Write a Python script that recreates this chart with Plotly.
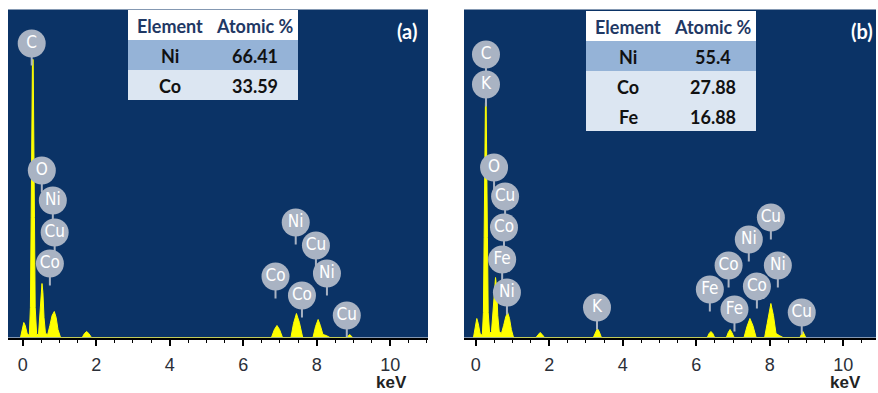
import plotly.graph_objects as go

W, H = 878, 393

# ---------------- spectrum (a): Ni-Co sample ----------------
energy_a = [-0.06, 0.00, 0.03, 0.07, 0.12, 0.18, 0.21, 0.23, 0.25, 0.265, 0.285, 0.30, 0.32, 0.34,
            0.38, 0.43, 0.47, 0.50, 0.525, 0.55, 0.58, 0.62, 0.68, 0.74, 0.80, 0.86, 0.91, 0.96, 1.03,
            1.62, 1.68, 1.74, 1.80, 1.87,
            6.77, 6.85, 6.92, 6.99, 7.07,
            7.30, 7.37, 7.45, 7.53, 7.62,
            7.90, 7.97, 8.04, 8.10, 8.17, 8.26, 8.36,
            8.82, 8.90, 8.98]
counts_a = [0, 9, 15, 12, 4, 2, 30, 120, 230, 278, 278, 230, 120, 30,
            3, 3, 22, 45, 54, 45, 20, 4, 3, 12, 22, 26, 20, 8, 0,
            0, 4, 6, 4, 0,
            0, 8, 12, 8, 0,
            0, 14, 24, 15, 0,
            0, 11, 18, 12, 3, 2, 0,
            0, 3, 0]

# ---------------- spectrum (b): Ni-Co-Fe sample ----------------
energy_b = [-0.06, 0.00, 0.03, 0.07, 0.12, 0.18, 0.21, 0.23, 0.25, 0.265, 0.285, 0.30, 0.32, 0.34,
            0.38, 0.43, 0.47, 0.51, 0.54, 0.57, 0.60, 0.64, 0.70, 0.76, 0.82, 0.87, 0.92, 0.97, 1.03,
            1.64, 1.70, 1.75, 1.81, 1.87,
            3.20, 3.26, 3.31, 3.36, 3.42,
            6.30, 6.35, 6.40, 6.45, 6.50,
            6.82, 6.87, 6.92, 6.97, 7.03,
            7.30, 7.38, 7.46, 7.54, 7.63,
            7.86, 7.93, 8.03, 8.10, 8.17, 8.26, 8.36,
            8.82, 8.90, 8.98]
counts_b = [0, 12, 19, 14, 4, 2, 25, 100, 195, 235, 235, 195, 100, 25,
            4, 6, 28, 50, 60, 50, 22, 6, 4, 12, 21, 25, 19, 8, 0,
            0, 3, 5, 3, 0,
            0, 6, 9, 6, 0,
            0, 4, 6, 4, 0,
            0, 5, 8, 5, 0,
            0, 11, 19, 12, 0,
            0, 14, 34, 22, 4, 2, 0,
            0, 6, 0]

# ---------------- element markers ----------------
labels_a = ["C", "O", "Ni", "Cu", "Co", "Ni", "Cu", "Co", "Ni", "Co", "Cu"]
label_e_a = [0.245, 0.52, 0.82, 0.87, 0.74, 7.43, 7.98, 6.88, 8.28, 7.60, 8.82]
label_y_a = [294, 167, 137, 105, 74, 115, 92, 61, 64, 42, 22]

labels_b = ["C", "K", "O", "Cu", "Co", "Fe", "Ni", "K", "Cu", "Ni", "Co", "Ni", "Fe", "Co", "Fe", "Cu"]
label_e_b = [0.28, 0.28, 0.50, 0.80, 0.77, 0.72, 0.85, 3.30, 8.03, 7.43, 6.88, 8.22, 6.37, 7.65, 7.04, 8.87]
label_y_b = [283, 253, 170, 141, 110, 78, 45, 30, 120, 98, 72, 72, 48, 51, 28, 25]

# ---------------- composition tables ----------------
table_header = ["Element", "Atomic %"]
elements_a = ["Ni", "Co"]
atomic_a = [66.41, 33.59]
elements_b = ["Ni", "Co", "Fe"]
atomic_b = [55.4, 27.88, 16.88]

NAVY = "#0b3366"
YELLOW = "#ffff00"
BUBBLE = "#a9b3c3"
R_BUBBLE = 14   # bubble radius in count units (1 count == 1 px here)
STEM = 8

fig = go.Figure()


def add_panel(energy, counts, labels, le, ly, xa, ya):
    fig.add_trace(go.Scatter(x=energy, y=counts, mode="lines", fill="tozeroy",
                             line=dict(color=YELLOW, width=1), fillcolor=YELLOW,
                             xaxis=xa, yaxis=ya, hoverinfo="skip", showlegend=False))
    sx, sy = [], []
    for e, y in zip(le, ly):
        sx += [e, e, None]
        sy += [y - R_BUBBLE + 2, y - R_BUBBLE - STEM, None]
    fig.add_trace(go.Scatter(x=sx, y=sy, mode="lines", line=dict(color=BUBBLE, width=2),
                             xaxis=xa, yaxis=ya, hoverinfo="skip", showlegend=False))
    fig.add_trace(go.Scatter(x=le, y=ly, mode="markers+text", text=labels,
                             textposition="middle center",
                             textfont=dict(family="Liberation Sans Narrow, DejaVu Sans Condensed, Arial",
                                           size=17, color="white"),
                             marker=dict(symbol="circle", size=2 * R_BUBBLE, color=BUBBLE,
                                         line=dict(width=0)),
                             xaxis=xa, yaxis=ya, hoverinfo="skip", showlegend=False))


add_panel(energy_a, counts_a, labels_a, label_e_a, label_y_a, "x", "y")
add_panel(energy_b, counts_b, labels_b, label_e_b, label_y_b, "x2", "y2")


def px(x):
    return x / W


def py(y):
    return 1 - y / H


y_dom = [py(337.5), py(9.5)]
common_x = dict(showline=True, linecolor="black", linewidth=1.5, ticks="outside",
                tickcolor="black", tickwidth=1.5, ticklen=7, tick0=0, dtick=2,
                minor=dict(ticks="outside", dtick=0.5, ticklen=4, tickcolor="black", tickwidth=1.2),
                showgrid=False, zeroline=False, fixedrange=True,
                tickfont=dict(family="Liberation Sans, Arial", size=18, color="#2b2f38"),
                ticklabelstandoff=3)
common_y = dict(range=[0, 328], visible=False, showgrid=False, zeroline=False, fixedrange=True)

fig.update_layout(
    width=W, height=H, autosize=False,
    margin=dict(l=0, r=0, t=0, b=0),
    paper_bgcolor="white", plot_bgcolor=NAVY,
    xaxis=dict(domain=[px(8), px(428)], range=[-0.40, 11.03], anchor="y", **common_x),
    yaxis=dict(domain=y_dom, anchor="x", **common_y),
    xaxis2=dict(domain=[px(464), px(876)], range=[-0.318, 10.89], anchor="y2", **common_x),
    yaxis2=dict(domain=y_dom, anchor="x2", **common_y),
)

shapes = []
annotations = []


def add_table(x0, x1, top, row_h, col_cx, elements, values):
    rows = [table_header] + [[el, str(v)] for el, v in zip(elements, values)]
    for i, row in enumerate(rows):
        y0 = top + i * row_h
        fill = "#ffffff" if i == 0 else ("#95b3d7" if i == 1 else "#dce6f2")
        shapes.append(dict(type="rect", xref="paper", yref="paper",
                           x0=px(x0), x1=px(x1), y0=py(y0 + row_h), y1=py(y0),
                           fillcolor=fill, line=dict(width=0), layer="above"))
        for j, txt in enumerate(row):
            annotations.append(dict(xref="paper", yref="paper", x=px(col_cx[j]),
                                    y=py(y0 + row_h / 2 + 1), text="<b>%s</b>" % txt,
                                    showarrow=False, xanchor="center", yanchor="middle",
                                    font=dict(family="Lato, Open Sans", size=18,
                                              color="#1f3864" if i == 0 else "#111111")))


add_table(128, 298, 10, 30, [170, 255], elements_a, atomic_a)
add_table(586, 756, 11, 30, [628, 713], elements_b, atomic_b)

for txt, x, y in [("(a)", 407, 31), ("(b)", 862, 31)]:
    annotations.append(dict(xref="paper", yref="paper", x=px(x), y=py(y), text="<b>%s</b>" % txt,
                            showarrow=False, xanchor="center", yanchor="middle",
                            font=dict(family="Lato, Open Sans", size=20, color="white")))

for x in (391, 845):
    annotations.append(dict(xref="paper", yref="paper", x=px(x), y=py(382), text="<b>keV</b>",
                            showarrow=False, xanchor="center", yanchor="middle",
                            font=dict(family="Liberation Sans, Arial", size=17, color="#222222")))

fig.update_layout(shapes=shapes, annotations=annotations)
fig.write_html("out.html")
